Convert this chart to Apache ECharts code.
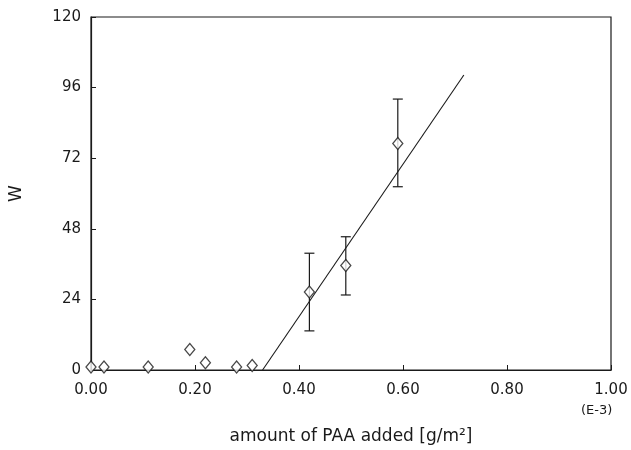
<!DOCTYPE html>
<html>
<head>
<meta charset="utf-8">
<script src="https://cdn.jsdelivr.net/npm/echarts@6/dist/echarts.min.js"></script>
<style>
  html, body {margin: 0; padding: 0; background: #fff;}
  #chart {width: 631px; height: 450px;}
</style>
</head>
<body>
<div id="chart"></div>
<script>
// measured points: amount of PAA (E-3 g/m2) and W
const paa = [0.00, 0.025, 0.11, 0.19, 0.22, 0.28, 0.31, 0.42, 0.49, 0.59]
const wValues = [1, 1, 1, 7, 2.5, 1, 1.5, 26.5, 35.5, 77]

// error bars (only for the last three points)
const errX = [0.42, 0.49, 0.59]
const errLow = [13.3, 25.5, 62.3]
const errHigh = [39.7, 45.3, 92.1]

// fitted line
const fitX = [0.33, 0.717]
const fitY = [0, 100.3]

const xTicks = ['0.00', '0.20', '0.40', '0.60', '0.80', '1.00']

const font = 'DejaVu Sans'
const ink = '#1a1a1a'

const chart = echarts.init(document.getElementById('chart'))

const errData = errX.map((x, i) => [x, errLow[i], errHigh[i]])

chart.setOption({
  animation: false,
  grid: {left: 90, right: 20, top: 17, bottom: 78, show: true, borderColor: ink, borderWidth: 1.2},
  xAxis: {
    type: 'value',
    min: 0,
    max: 1,
    interval: 0.2,
    name: 'amount of PAA added [g/m²]',
    nameLocation: 'middle',
    nameGap: 58,
    nameTextStyle: {fontFamily: font, fontSize: 17, color: ink},
    axisLine: {lineStyle: {color: ink, width: 1.2}},
    axisTick: {inside: true, length: 5, lineStyle: {color: ink}},
    splitLine: {show: false},
    axisLabel: {
      fontFamily: font, fontSize: 15, color: ink, margin: 13,
      formatter: v => xTicks[Math.round(v / 0.2)],
    },
  },
  yAxis: {
    type: 'value',
    min: 0,
    max: 120,
    interval: 24,
    name: 'W',
    nameLocation: 'middle',
    nameGap: 66,
    nameRotate: 90,
    nameTextStyle: {fontFamily: font, fontSize: 17, color: ink},
    axisLine: {lineStyle: {color: ink, width: 1.2}},
    axisTick: {inside: true, length: 5, lineStyle: {color: ink}},
    splitLine: {show: false},
    axisLabel: {fontFamily: font, fontSize: 15, color: ink, margin: 10},
  },
  graphic: [
    {type: 'text', left: 581, top: 404, style: {text: '(E-3)', font: '13px "DejaVu Sans"', fill: ink}},
  ],
  series: [
    {
      type: 'line',
      data: fitX.map((x, i) => [x, fitY[i]]),
      symbol: 'none',
      lineStyle: {color: ink, width: 1.1},
      z: 2,
    },
    {
      type: 'custom',
      data: errData,
      z: 3,
      renderItem: (params, api) => {
        const top = api.coord([api.value(0), api.value(2)])
        const bot = api.coord([api.value(0), api.value(1)])
        const cap = 5
        const style = {stroke: ink, lineWidth: 1.2}
        return {
          type: 'group',
          children: [
            {type: 'line', shape: {x1: top[0], y1: top[1], x2: bot[0], y2: bot[1]}, style},
            {type: 'line', shape: {x1: top[0] - cap, y1: top[1], x2: top[0] + cap, y2: top[1]}, style},
            {type: 'line', shape: {x1: bot[0] - cap, y1: bot[1], x2: bot[0] + cap, y2: bot[1]}, style},
          ],
        }
      },
    },
    {
      type: 'scatter',
      data: paa.map((x, i) => [x, wValues[i]]),
      symbol: 'diamond',
      symbolSize: [10, 12],
      itemStyle: {color: '#fff', borderColor: ink, borderWidth: 1.3},
      z: 5,
    },
  ],
})
</script>
</body>
</html>
